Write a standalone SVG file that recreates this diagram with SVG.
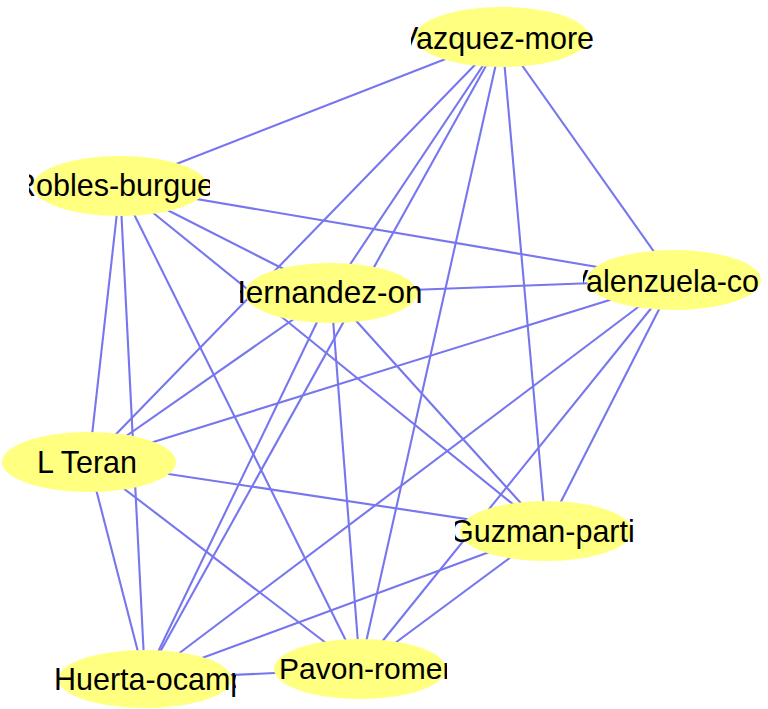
<svg xmlns="http://www.w3.org/2000/svg" width="768" height="709" viewBox="0 0 768 709">
<style>
.edges line{stroke:#7676ee;stroke-width:2.1;fill:none}
.node ellipse{fill:#ffff80;stroke:none}
.node text{font-family:"Liberation Sans",Arial,sans-serif;font-size:30.5px;fill:#000}
</style>
<defs>
<clipPath id="cV"><rect x="411" y="0" width="182" height="75"/></clipPath>
<clipPath id="cR"><rect x="29" y="150" width="181" height="75"/></clipPath>
<clipPath id="cH"><rect x="240" y="255" width="182" height="75"/></clipPath>
<clipPath id="cVa"><rect x="583" y="243" width="181" height="75"/></clipPath>
<clipPath id="cL"><rect x="0" y="425" width="180" height="75"/></clipPath>
<clipPath id="cG"><rect x="455" y="494" width="181" height="75"/></clipPath>
<clipPath id="cHu"><rect x="55" y="642" width="181" height="67"/></clipPath>
<clipPath id="cP"><rect x="266" y="632" width="181" height="75"/></clipPath>
</defs>
<rect width="768" height="709" fill="#fff"/>
<g id="edges" class="edges">
<line x1="502" y1="37" x2="120" y2="186"/>
<line x1="502" y1="37" x2="331" y2="293"/>
<line x1="502" y1="37" x2="674" y2="280"/>
<line x1="502" y1="37" x2="89" y2="462"/>
<line x1="502" y1="37" x2="546" y2="531"/>
<line x1="502" y1="37" x2="145" y2="679"/>
<line x1="502" y1="37" x2="360" y2="669"/>
<line x1="120" y1="186" x2="331" y2="293"/>
<line x1="120" y1="186" x2="674" y2="280"/>
<line x1="120" y1="186" x2="89" y2="462"/>
<line x1="120" y1="186" x2="546" y2="531"/>
<line x1="120" y1="186" x2="145" y2="679"/>
<line x1="120" y1="186" x2="360" y2="669"/>
<line x1="331" y1="293" x2="674" y2="280"/>
<line x1="331" y1="293" x2="89" y2="462"/>
<line x1="331" y1="293" x2="546" y2="531"/>
<line x1="331" y1="293" x2="145" y2="679"/>
<line x1="331" y1="293" x2="360" y2="669"/>
<line x1="674" y1="280" x2="89" y2="462"/>
<line x1="674" y1="280" x2="546" y2="531"/>
<line x1="674" y1="280" x2="145" y2="679"/>
<line x1="674" y1="280" x2="360" y2="669"/>
<line x1="89" y1="462" x2="546" y2="531"/>
<line x1="89" y1="462" x2="145" y2="679"/>
<line x1="89" y1="462" x2="360" y2="669"/>
<line x1="546" y1="531" x2="145" y2="679"/>
<line x1="546" y1="531" x2="360" y2="669"/>
<line x1="145" y1="679" x2="360" y2="669"/>
</g>
<g id="node-vazquez" class="node">
<ellipse cx="502" cy="37" rx="87" ry="30"/>
<text x="398" y="49" clip-path="url(#cV)">Vazquez-more</text>
</g>
<g id="node-robles" class="node">
<ellipse cx="120" cy="186" rx="87" ry="30"/>
<text x="14" y="196" clip-path="url(#cR)">Robles-burgue</text>
</g>
<g id="node-hernandez" class="node">
<ellipse cx="331" cy="293" rx="86" ry="30"/>
<text x="223" y="303" style="font-size:31.5px" clip-path="url(#cH)">Hernandez-on</text>
</g>
<g id="node-valenzuela" class="node">
<ellipse cx="674" cy="280" rx="87" ry="30"/>
<text x="568" y="292" clip-path="url(#cVa)">Valenzuela-co</text>
</g>
<g id="node-lteran" class="node">
<ellipse cx="89" cy="462" rx="87" ry="30"/>
<text x="37" y="473" clip-path="url(#cL)">L Teran</text>
</g>
<g id="node-guzman" class="node">
<ellipse cx="546" cy="531" rx="86" ry="30"/>
<text x="450" y="542" clip-path="url(#cG)">Guzman-parti</text>
</g>
<g id="node-huerta" class="node">
<ellipse cx="145" cy="679" rx="87" ry="29"/>
<text x="54" y="690" clip-path="url(#cHu)">Huerta-ocamp</text>
</g>
<g id="node-pavon" class="node">
<ellipse cx="360" cy="669" rx="86" ry="30"/>
<text x="279" y="679" style="font-size:30px" clip-path="url(#cP)">Pavon-romer</text>
</g>
</svg>
